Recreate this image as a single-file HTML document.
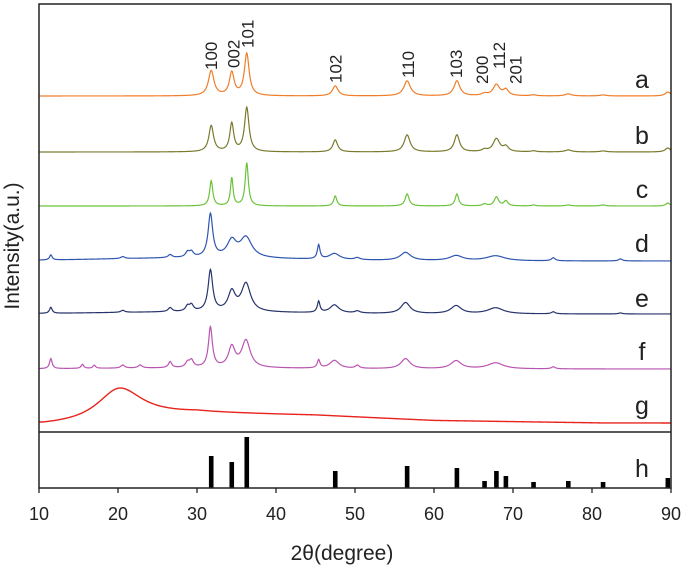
<!DOCTYPE html>
<html><head><meta charset="utf-8"><style>
body{margin:0;background:#fff;}
svg{display:block;font-family:"Liberation Sans",sans-serif;}
</style></head><body>
<svg id="chart" width="685" height="572"></svg>
<script>
// ---- data ----
const seriesNames = ["a","b","c","d","e","f"];
const seriesColors = ["#f07d2a","#7a7a2e","#6cc23a","#2f55b0","#27336b","#b955b0"];
const baselines = [96,152,206,261,314,369];
// peak positions (2θ), heights (px intensity units), widths (HWHM deg)
const peakPos = [
 [31.8,34.4,36.3,47.5,56.6,62.9,66.4,67.9,69.1,72.6,77.0,81.4,89.6],
 [31.8,34.4,36.3,47.5,56.6,62.9,66.4,67.9,69.1,72.6,77.0,81.4,89.6],
 [31.8,34.4,36.3,47.5,56.6,62.9,66.4,67.9,69.1,72.6,77.0,81.4,89.6],
 [11.5,20.6,26.6,28.8,29.3,31.7,34.4,36.2,45.4,47.4,50.3,56.4,62.8,67.8,75.1,83.6],
 [11.5,20.6,26.6,28.8,29.3,31.7,34.4,36.2,45.4,47.4,50.3,56.4,62.8,67.8,75.1,83.6],
 [11.5,15.5,17.0,20.6,22.8,26.6,28.8,29.3,31.7,34.4,36.2,45.4,47.4,50.3,56.4,62.8,67.8,75.1]
];
const peakHeights = [
 [25,23,42,10,15,15,2,11,6,1,2,1,4],
 [26,28,44,12,17,17,2,13,5,1,2,1,4],
 [25,28,43,10,12,12,2,9,5,1,1,1,3],
 [5,2,3,5,5,43,16,20,14,6,2,8,5,5,3,2],
 [6,2,4,5,6,41,19,28,11,8,2,11,8,6,2,1],
 [10,4,3,3,3,6,5,7,40,20,27,8,8,3,10,8,6,2]
];
const peakWidths = [
 [0.42,0.36,0.36,0.42,0.5,0.45,0.45,0.5,0.4,0.4,0.5,0.5,0.4],
 [0.36,0.3,0.34,0.36,0.45,0.4,0.4,0.5,0.4,0.4,0.5,0.5,0.4],
 [0.24,0.2,0.24,0.24,0.3,0.26,0.3,0.32,0.3,0.3,0.4,0.4,0.3],
 [0.2,0.3,0.3,0.3,0.3,0.35,0.7,0.9,0.2,0.8,0.4,0.8,1.0,1.4,0.3,0.3],
 [0.2,0.3,0.3,0.3,0.3,0.35,0.55,0.7,0.2,0.7,0.4,0.7,0.8,1.2,0.3,0.3],
 [0.2,0.2,0.2,0.3,0.3,0.25,0.3,0.3,0.3,0.5,0.65,0.2,0.7,0.3,0.7,0.8,1.2,0.3]
];
const humpBase = [0,0,0,3,2,1];
const gCenter = 20.2, gHeight = 30, gWidth = 3.5, gStart = 422, gEnd = 423;
const gPlateau = [[10,0],[30,10],[45,8],[60,3],[90,0]];
const refPos = [31.8,34.4,36.3,47.5,56.6,62.9,66.4,67.9,69.1,72.6,77.0,81.4,89.6];
const refInt = [32,26,51,17,22,20,7,17,12,6,7,6,10];
const hklLabels = ["100","002","101","102","110","103","200","112","201"];
const hklPos = [31.8,34.6,36.4,47.5,56.7,62.8,66.1,68.2,70.3];
const hklBottom = [70,68,48,83,78,78,84,69,84];
const xTicks = [10,20,30,40,50,60,70,80,90];

// ---- axes ----
const X0=39, X1=671, TOP=4, SEP=432, BOT=488;
const xs = v => X0 + (v-10)/80*(X1-X0);
const NS="http://www.w3.org/2000/svg";
const svg=document.getElementById('chart');
function mk(t,a){const e=document.createElementNS(NS,t);for(const k in a)e.setAttribute(k,a[k]);svg.appendChild(e);return e;}

function lor(x,p,h,w){let s=0;for(let i=0;i<p.length;i++){const d=(x-p[i])/w[i];s+=h[i]/(1+d*d);}return s;}

for(let s=0;s<seriesNames.length;s++){
  let d="";
  for(let x=10;x<=90;x+=0.05){
    let yv=lor(x,peakPos[s],peakHeights[s],peakWidths[s]);
    if(humpBase[s]) yv+=humpBase[s]*Math.exp(-Math.pow((x-30)/18,2));
    d+=(d?"L":"M")+xs(x).toFixed(2)+","+(baselines[s]-yv).toFixed(2);
  }
  const p=mk('path',{d:d,fill:'none',stroke:seriesColors[s],'stroke-width':1.2});
  
  
}
// series g
(function(){
  let d="";
  for(let x=10;x<=90;x+=0.1){
    let plat=0;
    for(let i=0;i<gPlateau.length-1;i++){const a=gPlateau[i],b=gPlateau[i+1];if(x>=a[0]&&x<=b[0]){plat=a[1]+(b[1]-a[1])*(x-a[0])/(b[0]-a[0]);}}
    const dd=(x-gCenter)/gWidth;
    const yv=plat+gHeight/(1+dd*dd)*(x<gCenter?Math.exp(-Math.pow((gCenter-x)/8,2)):1)-1;
    const base=gStart+(gEnd-gStart)*(x-10)/80;
    d+=(d?"L":"M")+xs(x).toFixed(2)+","+(base-Math.max(yv,0)).toFixed(2);
  }
  const p=mk('path',{d:d,fill:'none',stroke:'#e8231c','stroke-width':1.4});
  
  
})();
// reference bars h
for(let i=0;i<refPos.length;i++){
  const r=mk('rect',{x:xs(refPos[i])-2.3,y:BOT-refInt[i],width:4.6,height:refInt[i],fill:'#000'});
  
  
}
// frame
const fr=mk('rect',{x:X0,y:TOP,width:X1-X0,height:BOT-TOP,fill:'none',stroke:'#222','stroke-width':1.5});

const sl=mk('line',{x1:X0,x2:X1,y1:SEP,y2:SEP,stroke:'#222','stroke-width':1.5});

// ticks
for(const t of xTicks){
  const l=mk('line',{x1:xs(t),x2:xs(t),y1:BOT,y2:BOT+5,stroke:'#222','stroke-width':1.3});
  
  const tx=mk('text',{x:xs(t),y:520,'font-size':18,'text-anchor':'middle',fill:'#222'});
  tx.textContent=t;
  
}
// hkl labels
for(let i=0;i<hklLabels.length;i++){
  const x=xs(hklPos[i])+6,y=hklBottom[i];
  const tx=mk('text',{x:x,y:y,'font-size':17,fill:'#222',transform:`rotate(-90 ${x} ${y})`});
  tx.textContent=hklLabels[i];
  
}
// series letters
const letters=["a","b","c","d","e","f","g","h"];
const letterY=[88,144,198,252,307,360,414,477];
for(let i=0;i<letters.length;i++){
  const tx=mk('text',{x:642,y:letterY[i],'font-size':25,'text-anchor':'middle',fill:'#222'});
  tx.textContent=letters[i];
  
}
// axis titles
const xt=mk('text',{x:342,y:560,'font-size':21,'text-anchor':'middle',fill:'#222'});
xt.textContent="2θ(degree)";

const yt=mk('text',{x:19,y:246,'font-size':21,'text-anchor':'middle',fill:'#222',transform:'rotate(-90 19 246)'});
yt.textContent="Intensity(a.u.)";

</script>
</body></html>
